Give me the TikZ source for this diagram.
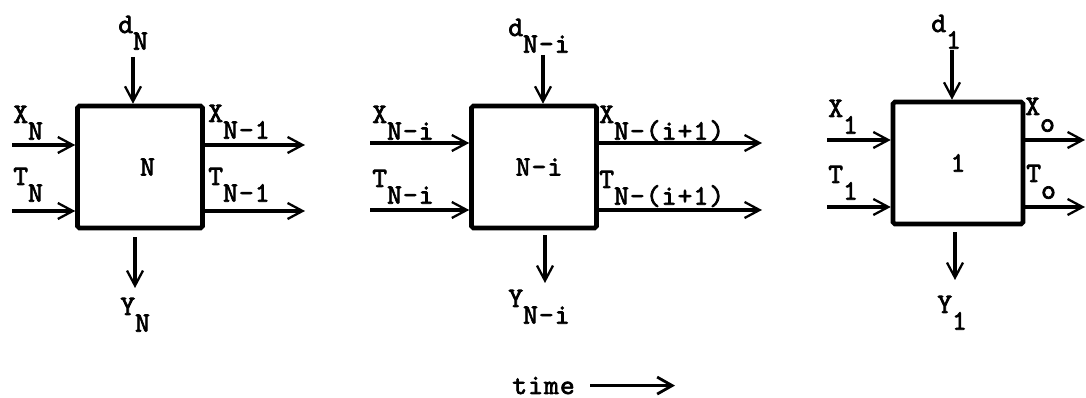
\documentclass[tikz,border=0pt]{standalone}
\usepackage{fontspec}
\newfontfamily\tw{lmmono10-regular.otf}[LetterSpace=4,FakeBold=2.5]
\usetikzlibrary{arrows.meta}
\newcommand{\lab}[2]{#1\raisebox{-9.5pt}{#2}}

\begin{document}
\begin{tikzpicture}[x=0.02cm, y=-0.02cm,
		blk/.style={draw, line width=2.6pt, rounded corners=1pt, minimum width=2.5cm, minimum height=2.44cm, font=\tw\fontsize{16pt}{18pt}\selectfont},
		lbl/.style={inner sep=0pt, anchor=base west, font=\tw\fontsize{16pt}{18pt}\selectfont},
		sig/.style={line width=2pt, -{Straight Barb[length=3mm, width=3.2mm, line width=1.3pt]}}]
		\useasboundingbox (0,0) rectangle (1086,398);
		\begin{scope}[shift={(140,167)}]
			\node (b1) at (0,0) [blk] {\hspace{0.3cm}N};
			\coordinate (d1) at (-7,-110);
			\coordinate (y1) at (-5,121);
			\coordinate (xi1) at (-128,-22);
			\coordinate (ti1) at (-128,44);
			\coordinate (xo1) at (165,-22);
			\coordinate (to1) at (165,44);
			\draw [sig] (d1) -- (d1 |- b1.north);
			\draw [sig] ([yshift=-0.14cm]b1.south -| y1) -- (y1);
			\draw [sig] (xi1) -- (xi1 -| b1.west);
			\draw [sig] (ti1) -- (ti1 -| b1.west);
			\draw [sig] (b1.east |- xo1) -- (xo1);
			\draw [sig] (b1.east |- to1) -- (to1);
			\node (ld1) at (-22,-134) [lbl] {\lab{d}{N}};
			\node (lxi1) at (-127,-44) [lbl] {\lab{X}{N}};
			\node (lti1) at (-127,18) [lbl] {\lab{T}{N}};
			\node (lxo1) at (68,-45) [lbl] {\lab{X}{N-1}};
			\node (lto1) at (68,18) [lbl] {\lab{T}{N-1}};
			\node (ly1) at (-20,148) [lbl] {\lab{Y}{N}};
		\end{scope}
		\begin{scope}[shift={(534,167)}]
			\node (b2) at (0,0) [blk] {\hspace{0.2cm}N-i};
			\coordinate (d2) at (9,-112);
			\coordinate (y2) at (11,116);
			\coordinate (xi2) at (-164,-24);
			\coordinate (ti2) at (-164,43);
			\coordinate (xo2) at (228,-24);
			\coordinate (to2) at (228,43);
			\draw [sig] (d2) -- (d2 |- b2.north);
			\draw [sig] ([yshift=-0.1cm]b2.south -| y2) -- (y2);
			\draw [sig] (xi2) -- (xi2 -| b2.west);
			\draw [sig] (ti2) -- (ti2 -| b2.west);
			\draw [sig] (b2.east |- xo2) -- (xo2);
			\draw [sig] (b2.east |- to2) -- (to2);
			\node (ld2) at (-26,-131) [lbl] {\lab{d}{N-i}};
			\node (lxi2) at (-162,-44) [lbl] {\lab{X}{N-i}};
			\node (lti2) at (-162,20) [lbl] {\lab{T}{N-i}};
			\node (lxo2) at (65,-44) [lbl] {\lab{X}{N-(i+1)}};
			\node (lto2) at (65,21) [lbl] {\lab{T}{N-(i+1)}};
			\node (ly2) at (-26,140) [lbl] {\lab{Y}{N-i}};
		\end{scope}
		\begin{scope}[shift={(958,163)}]
			\node (b3) at (0,0) [blk, minimum width=2.6cm] {1};
			\coordinate (d3) at (-6,-113);
			\coordinate (y3) at (-3,117);
			\coordinate (xi3) at (-131,-23);
			\coordinate (ti3) at (-131,44);
			\coordinate (xo3) at (127,-23);
			\coordinate (to3) at (127,44);
			\draw [sig] (d3) -- (d3 |- b3.north);
			\draw [sig] ([yshift=-0.12cm]b3.south -| y3) -- (y3);
			\draw [sig] (xi3) -- (xi3 -| b3.west);
			\draw [sig] (ti3) -- (ti3 -| b3.west);
			\draw [sig] (b3.east |- xo3) -- (xo3);
			\draw [sig] (b3.east |- to3) -- (to3);
			\node (ld3) at (-27,-131) [lbl] {\lab{d}{1}};
			\node (lxi3) at (-130,-46) [lbl] {\lab{X}{1}};
			\node (lti3) at (-130,20) [lbl] {\lab{T}{1}};
			\node (lxo3) at (67,-48) [lbl] {\lab{X}{o}};
			\node (lto3) at (68,19) [lbl] {\lab{T}{o}};
			\node (ly3) at (-21,150) [lbl] {\lab{Y}{1}};
		\end{scope}
		\node (time) at (512,394) [lbl] {time};
		\coordinate (tend) at (675,385);
		\draw [line width=1.8pt, -{Straight Barb[length=3mm, width=3.4mm, line width=1.6pt]}] ([xshift=0.3cm]time.east) -- (tend |- time.east);
	\end{tikzpicture}
\end{document}
